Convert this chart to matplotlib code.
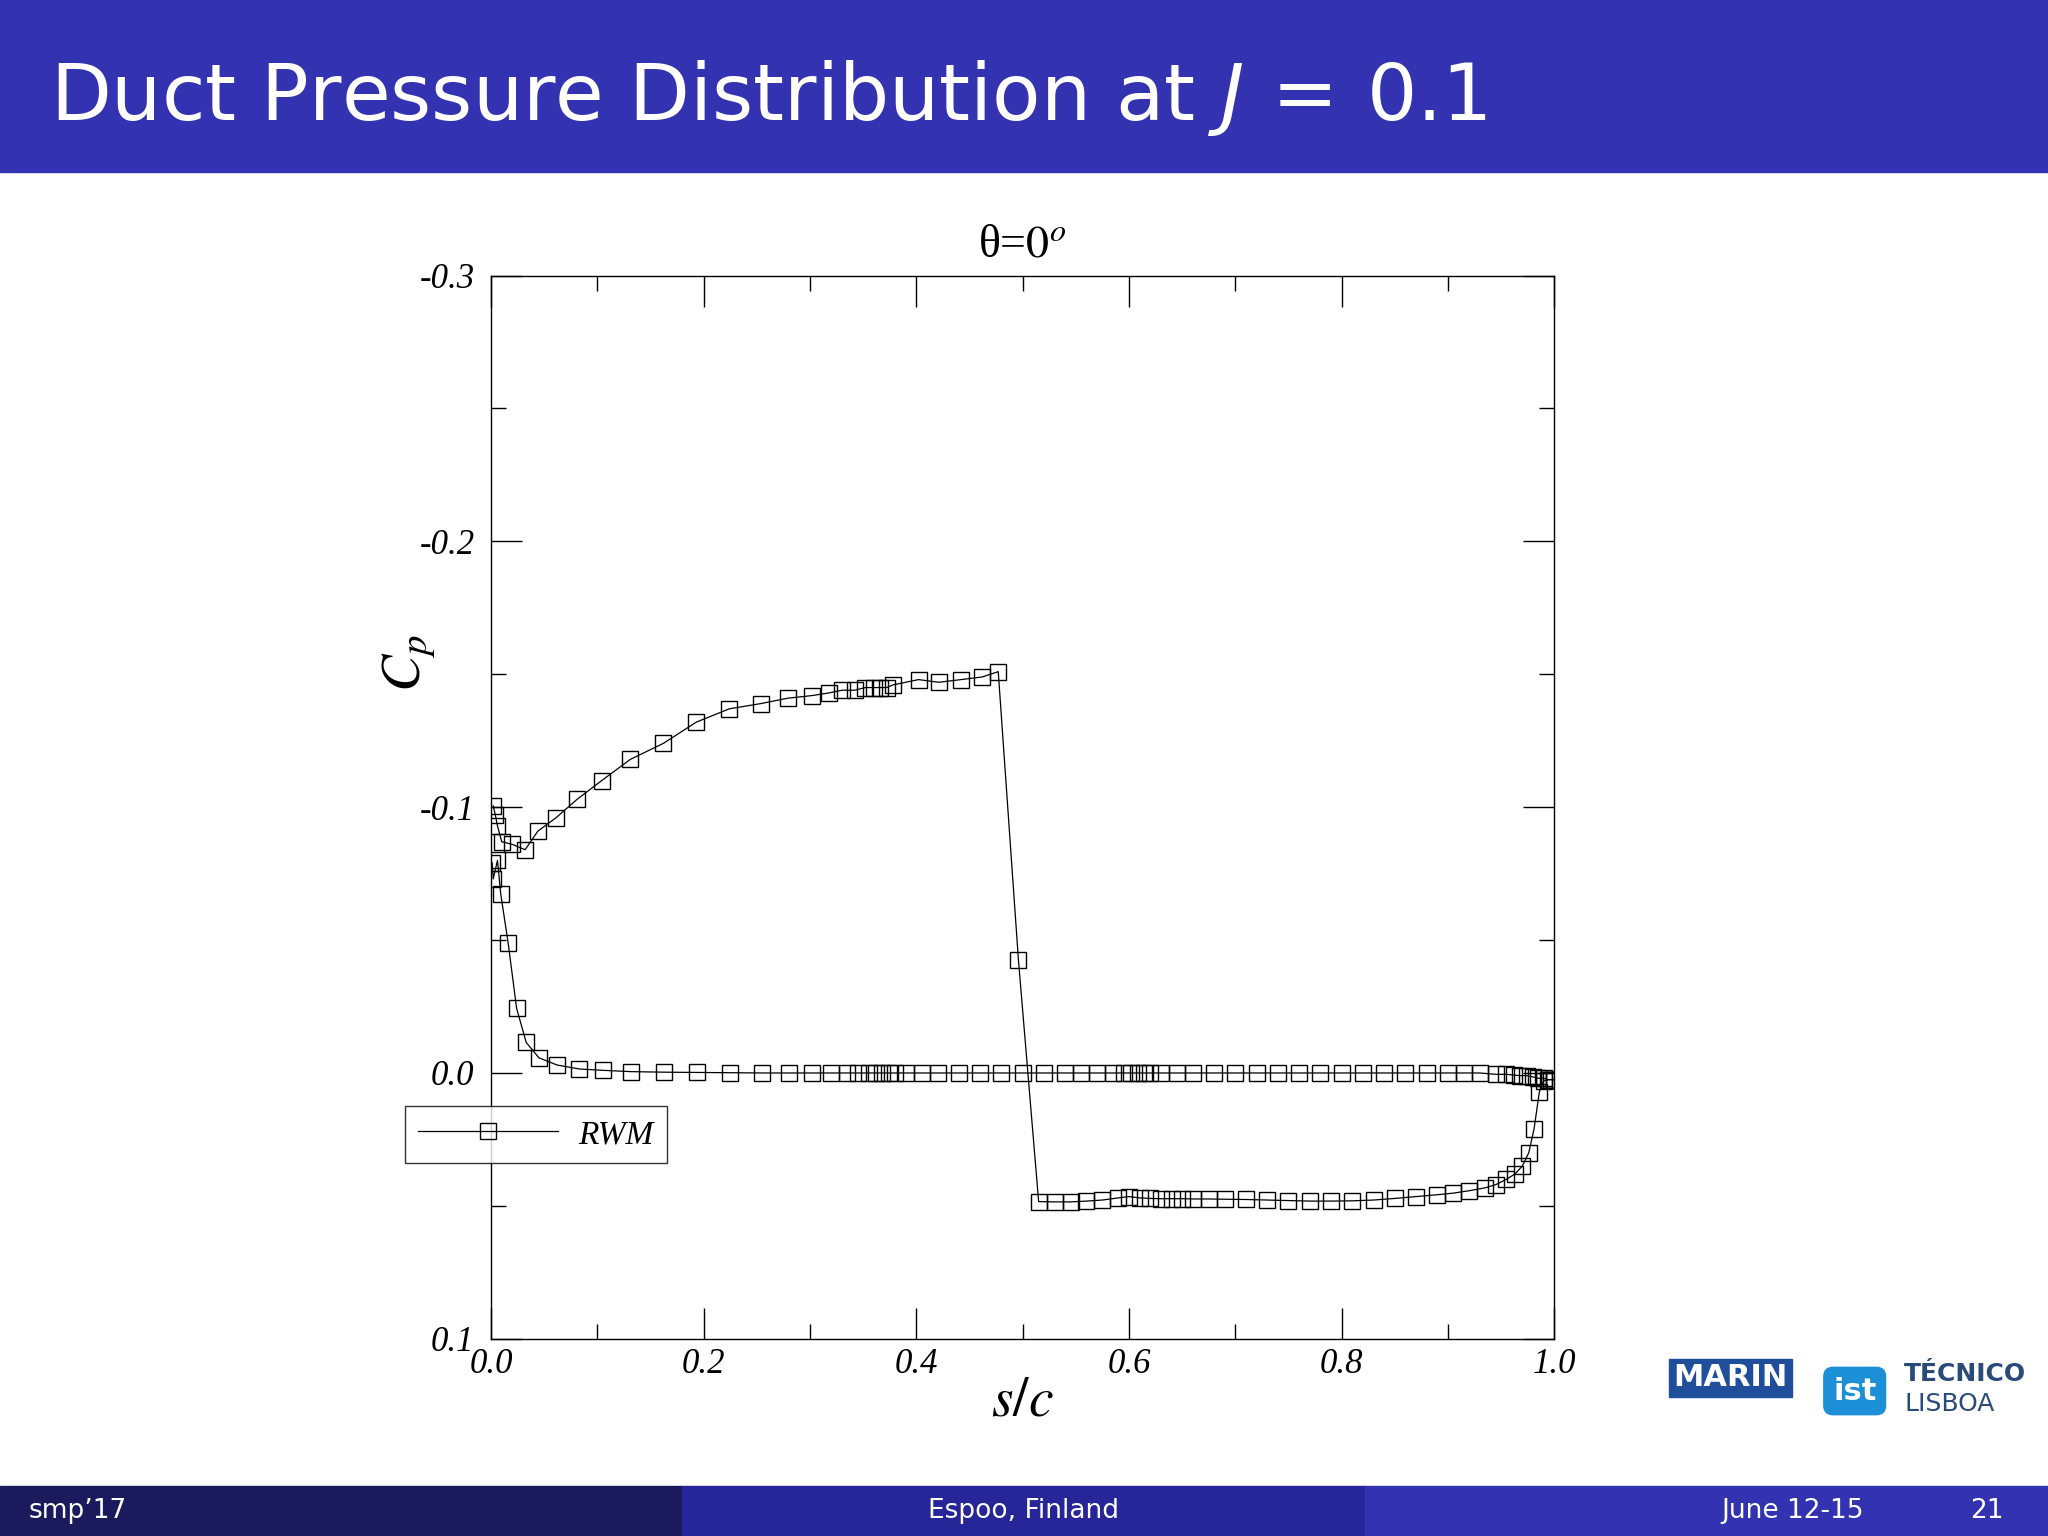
import matplotlib
matplotlib.use("Agg")
import matplotlib.pyplot as plt
from matplotlib.patches import Rectangle
from matplotlib.lines import Line2D
plt.rcParams["mathtext.fontset"] = "stix"

# suction branch from LE to the jump and pressure plateau to TE
s_upper = [0.002,0.004,0.006,0.010,0.020,0.032,0.044,0.061,0.081,0.104,0.131,0.162,0.193,0.224,0.254,0.279,0.302,
           0.318,0.330,0.342,0.352,0.360,0.366,0.372,0.378,0.402,0.421,0.442,0.462,0.477,0.496,
           0.515,0.530,0.545,0.560,0.575,0.590,0.600,0.610,0.620,0.630,0.640,0.650,0.660,0.675,0.690,0.710,
           0.730,0.750,0.770,0.790,0.810,0.830,0.850,0.870,0.890,0.905,0.920,0.935,0.945,0.955,0.963,0.970,0.976,0.981,0.986,0.990,0.995,1.000]
cp_upper = [-0.1005,-0.097,-0.093,-0.087,-0.086,-0.084,-0.091,-0.096,-0.103,-0.110,-0.118,-0.124,-0.132,-0.137,-0.139,-0.141,-0.142,
            -0.143,-0.144,-0.144,-0.145,-0.145,-0.145,-0.145,-0.146,-0.148,-0.147,-0.148,-0.149,-0.151,-0.0425,
            0.0484,0.0485,0.0485,0.0482,0.0478,0.0470,0.0465,0.0470,0.0472,0.0473,0.0473,0.0473,0.0474,0.0474,0.0475,0.0476,
            0.0478,0.0480,0.0482,0.0482,0.0481,0.0478,0.0472,0.0465,0.0458,0.0452,0.0443,0.0432,0.0420,0.0400,0.0380,0.0350,0.0300,0.0210,0.0070,0.0030,0.0025,0.0025]
# pressure-side branch from LE to TE
s_lower = [0.001,0.002,0.006,0.009,0.016,0.024,0.033,0.045,0.062,0.083,0.105,0.132,0.163,0.194,0.225,0.255,0.280,0.302,
           0.320,0.335,0.345,0.355,0.362,0.368,0.374,0.380,0.390,0.405,0.420,0.440,0.460,0.480,0.500,0.520,0.540,0.555,
           0.570,0.585,0.595,0.602,0.608,0.614,0.620,0.630,0.645,0.660,0.680,0.700,0.720,0.740,0.760,0.780,0.800,0.820,
           0.840,0.860,0.880,0.900,0.915,0.930,0.945,0.955,0.962,0.968,0.974,0.980,0.985,0.990,0.994,0.997,1.000]
cp_lower = [-0.079,-0.073,-0.080,-0.0675,-0.049,-0.0243,-0.0115,-0.0057,-0.003,-0.0015,-0.001,-0.0005,-0.0003,-0.0002,-0.0001,0.0,0.0,0.0,
            0.0,0.0,0.0,0.0,0.0,0.0,0.0,0.0,0.0,0.0,0.0,0.0,0.0,0.0,0.0,0.0,0.0,0.0,
            0.0,0.0,0.0,0.0,0.0,0.0,0.0,0.0,0.0,0.0,0.0,0.0,0.0,0.0,0.0,0.0,0.0,0.0,
            0.0,0.0,0.0,0.0,0.0,0.0,0.0005,0.0005,0.0008,0.001,0.001,0.0015,0.002,0.002,0.0025,0.0025,0.0025]

x_ticks = [0.0,0.2,0.4,0.6,0.8,1.0]
y_ticks = [-0.3,-0.2,-0.1,0.0,0.1]

serif = "Liberation Serif"
fig = plt.figure(figsize=(20.48,15.36), dpi=100)
fig.patches.append(Rectangle((0,1-132/1176),1,132/1176,transform=fig.transFigure,color="#3333b2",zorder=0))
fig.text(38/1568,1-75/1176,r"Duct Pressure Distribution at $J\,=\,0.1$",color="white",fontsize=57,va="center",
         family="DejaVu Sans",math_fontfamily="dejavusans")
fy=38/1176
for x0,w,c in [(0,522,"#1a1a5c"),(522,523,"#262699"),(1045,523,"#3333b2")]:
    fig.patches.append(Rectangle((x0/1568,0),w/1568,fy,transform=fig.transFigure,color=c,zorder=0))
fig.text(22/1568,fy/2,"smp’17",color="white",fontsize=19,va="center")
fig.text(784/1568,fy/2,"Espoo, Finland",color="white",fontsize=19,va="center",ha="center")
fig.text(1318/1568,fy/2,"June 12-15",color="white",fontsize=19,va="center")
fig.text(1508/1568,fy/2,"21",color="white",fontsize=19,va="center")
# logos (text approximations)
fig.text(1325/1568,1-1055/1176,"MARIN",color="white",fontsize=22,fontweight="bold",ha="center",va="center",
         bbox=dict(boxstyle="square,pad=0.15",fc="#1f4f9a",ec="#1f4f9a"))
fig.text(1420/1568,1-1065/1176,"ist",color="white",fontsize=22,fontweight="bold",ha="center",va="center",
         bbox=dict(boxstyle="round,pad=0.3",fc="#1d8fd6",ec="#1d8fd6"))
fig.text(1458/1568,1-1052/1176,"TÉCNICO",color="#2a4a7a",fontsize=18,fontweight="bold",va="center")
fig.text(1458/1568,1-1075/1176,"LISBOA",color="#2a4a7a",fontsize=18,va="center")

ax = fig.add_axes([376/1568,1-1025/1176,814/1568,814/1176])
ax.plot(s_upper,cp_upper,color="black",lw=0.9,marker="s",ms=11,mfc="none",mec="black",mew=1)
ax.plot(s_lower,cp_lower,color="black",lw=0.9,marker="s",ms=11,mfc="none",mec="black",mew=1)
ax.set_xlim(0,1); ax.set_ylim(0.1,-0.3)
ax.set_xticks(x_ticks); ax.set_yticks(y_ticks)
ax.set_xticks([0.1,0.3,0.5,0.7,0.9],minor=True)
ax.set_yticks([-0.25,-0.15,-0.05,0.05],minor=True)
ax.set_xticklabels([f"{v:.1f}" for v in x_ticks])
ax.set_yticklabels([f"{v:.1f}".replace("-0.0","0.0") for v in y_ticks])
for t in ax.get_xticklabels()+ax.get_yticklabels():
    t.set_fontfamily(serif); t.set_fontstyle("italic"); t.set_fontsize(25)
ax.tick_params(which="both",direction="in",top=True,right=True,width=1)
ax.tick_params(axis="x",which="major",length=22,pad=7)
ax.tick_params(axis="y",which="major",length=22,pad=12)
ax.tick_params(which="minor",length=11)
for sp in ax.spines.values(): sp.set_linewidth(1)
ax.set_xlabel(r"$\mathit{s/c}$",fontsize=40,labelpad=-6)
ax.set_ylabel(r"$C_p$",fontsize=40)
ax.yaxis.set_label_coords(-0.05,0.635)
ax.set_title(r"θ=$\mathit{0}^{\mathit{o}}$",family=serif,fontsize=33,pad=14)
h = Line2D([],[],color="black",lw=0.9,marker="s",ms=11,mfc="none",mec="black")
leg = ax.legend([h],["RWM"],loc="upper left",bbox_to_anchor=((310-376)/814,(1025-847)/814),
                prop=dict(family=serif,style="italic",size=24),frameon=True,fancybox=False,
                edgecolor="black",handlelength=4.2,borderaxespad=0,borderpad=0.4,handletextpad=0.6)
leg.get_frame().set_linewidth(1)
fig.savefig("out.png",dpi=100)
